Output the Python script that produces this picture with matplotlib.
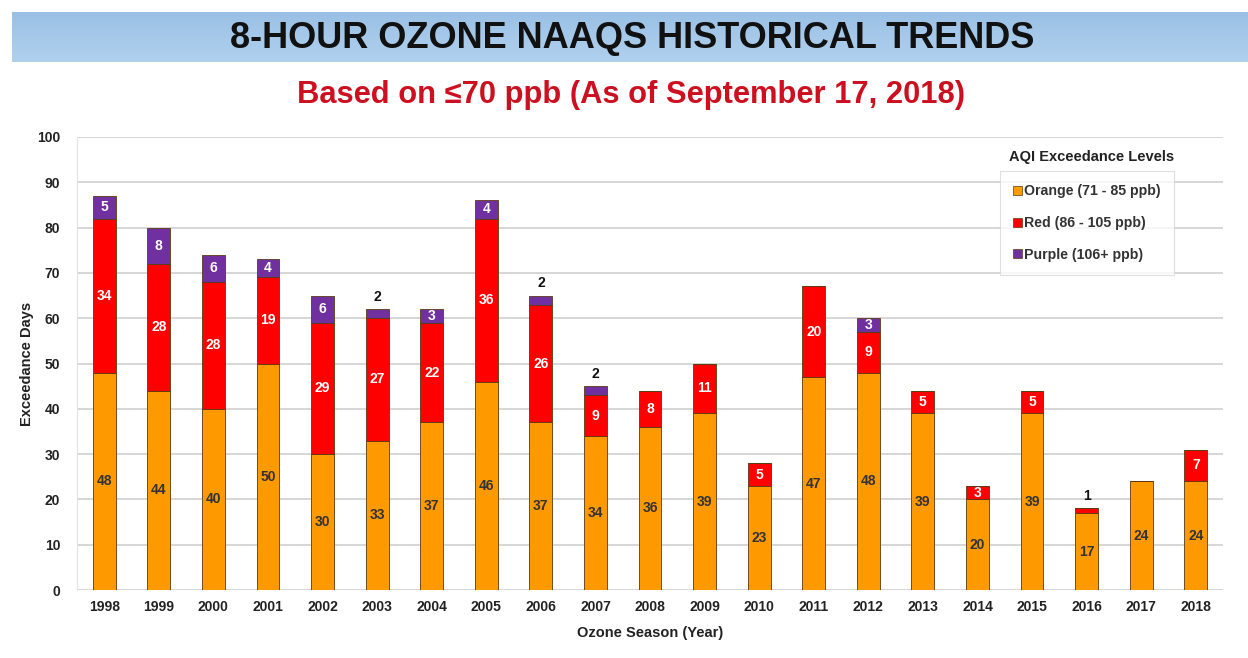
import numpy as np
import matplotlib
matplotlib.use("Agg")
import matplotlib.pyplot as plt
from matplotlib.patches import Patch
from matplotlib.colors import LinearSegmentedColormap

plt.rcParams['font.family'] = ['Liberation Sans', 'DejaVu Sans']

years = [str(y) for y in range(1998, 2019)]
orange = [48, 44, 40, 50, 30, 33, 37, 46, 37, 34, 36, 39, 23, 47, 48, 39, 20, 39, 17, 24, 24]
red = [34, 28, 28, 19, 29, 27, 22, 36, 26, 9, 8, 11, 5, 20, 9, 5, 3, 5, 1, 0, 7]
purple = [5, 8, 6, 4, 6, 2, 3, 4, 2, 2, 0, 0, 0, 0, 3, 0, 0, 0, 0, 0, 0]

title = "8-HOUR OZONE NAAQS HISTORICAL TRENDS"
subtitle = "Based on \u226470 ppb (As of September 17, 2018)"
legend_title = "AQI Exceedance Levels"
legend_labels = ["Orange (71 - 85 ppb)", "Red (86 - 105 ppb)", "Purple (106+ ppb)"]

c_orange = "#FF9900"
c_red = "#FF0000"
c_purple = "#7030A0"
edge = "#5a3a10"
txt = "#222222"

fig = plt.figure(figsize=(12.48, 6.58), dpi=100)

# Blue title banner with a soft vertical gradient
band = fig.add_axes([0.0096, 0.906, 0.9904, 0.076])
grad = np.linspace(0, 1, 100).reshape(-1, 1)
cmap = LinearSegmentedColormap.from_list("band", ["#98bfe4", "#a6c9ea", "#b0d0ee"])
band.imshow(grad, aspect="auto", cmap=cmap, extent=[0, 1, 0, 1])
band.set_axis_off()
band.text(0.502, 0.47, title, ha="center", va="center", fontsize=26,
          fontweight="bold", color="#111111", transform=band.transAxes)

fig.text(0.506, 0.855, subtitle, ha="center", va="center", fontsize=22.2,
         fontweight="bold", color="#cc1020")

ax = fig.add_axes([0.0617, 0.1033, 0.9183, 0.6885])
x = np.arange(len(years))
w = 0.42
ax.bar(x, orange, w, color=c_orange, edgecolor=edge, linewidth=0.6, zorder=3)
ax.bar(x, red, w, bottom=orange, color=c_red, edgecolor=edge, linewidth=0.6, zorder=3)
base_p = [o + r for o, r in zip(orange, red)]
ax.bar(x, purple, w, bottom=base_p, color=c_purple, edgecolor=edge, linewidth=0.6, zorder=3)

lab_kw = dict(ha="center", va="center", fontsize=10, fontweight="bold", zorder=4)
for i in range(len(years)):
    o, r, p = orange[i], red[i], purple[i]
    ax.text(x[i], o / 2, str(o), color="#333333", **lab_kw)
    if r >= 3:
        ax.text(x[i], o + r / 2, str(r), color="white", **lab_kw)
    elif r > 0:
        ax.text(x[i], o + r + 2.7, str(r), color="#111111", **lab_kw)
    if p >= 3:
        ax.text(x[i], o + r + p / 2, str(p), color="white", **lab_kw)
    elif p > 0:
        ax.text(x[i], o + r + p + 2.7, str(p), color="#111111", **lab_kw)

ax.set_xlim(-0.5, len(years) - 0.5)
ax.set_ylim(0, 100)
ax.set_yticks(range(0, 101, 10))
ax.set_xticks(x)
ax.set_xticklabels(years)
ax.yaxis.grid(True, color="#cfcfcf", linewidth=1.2, zorder=0)
ax.set_axisbelow(True)
for s in ["top", "right", "bottom"]:
    ax.spines[s].set_visible(False)
ax.spines["left"].set_color("#e2e2e2")
ax.tick_params(length=0, labelsize=10, colors=txt)
ax.tick_params(axis="y", pad=12)
ax.tick_params(axis="x", pad=7)
for t in ax.get_xticklabels() + ax.get_yticklabels():
    t.set_fontweight("bold")
ax.set_ylabel("Exceedance Days", fontsize=10.5, fontweight="bold", color=txt, labelpad=2)
ax.set_xlabel("Ozone Season (Year)", fontsize=10.5, fontweight="bold", color=txt, labelpad=9)

handles = [Patch(facecolor=c, edgecolor=edge, linewidth=0.5) for c in (c_orange, c_red, c_purple)]
ax.text(0.885, 0.955, legend_title, transform=ax.transAxes, ha="center", va="center",
        fontsize=10.5, fontweight="bold", color=txt, zorder=6)
leg = ax.legend(handles, legend_labels, loc="upper left", bbox_to_anchor=(0.805, 0.925),
                fontsize=10.2, frameon=True, fancybox=False, handlelength=0.6, handleheight=0.6,
                handletextpad=0.2, labelspacing=1.25, borderpad=0.95, borderaxespad=0,
                edgecolor="#d8d8d8")
leg.get_frame().set_linewidth(0.8)
for t in leg.get_texts():
    t.set_fontweight("bold")
    t.set_color("#333333")

fig.savefig("out.png", dpi=100)
